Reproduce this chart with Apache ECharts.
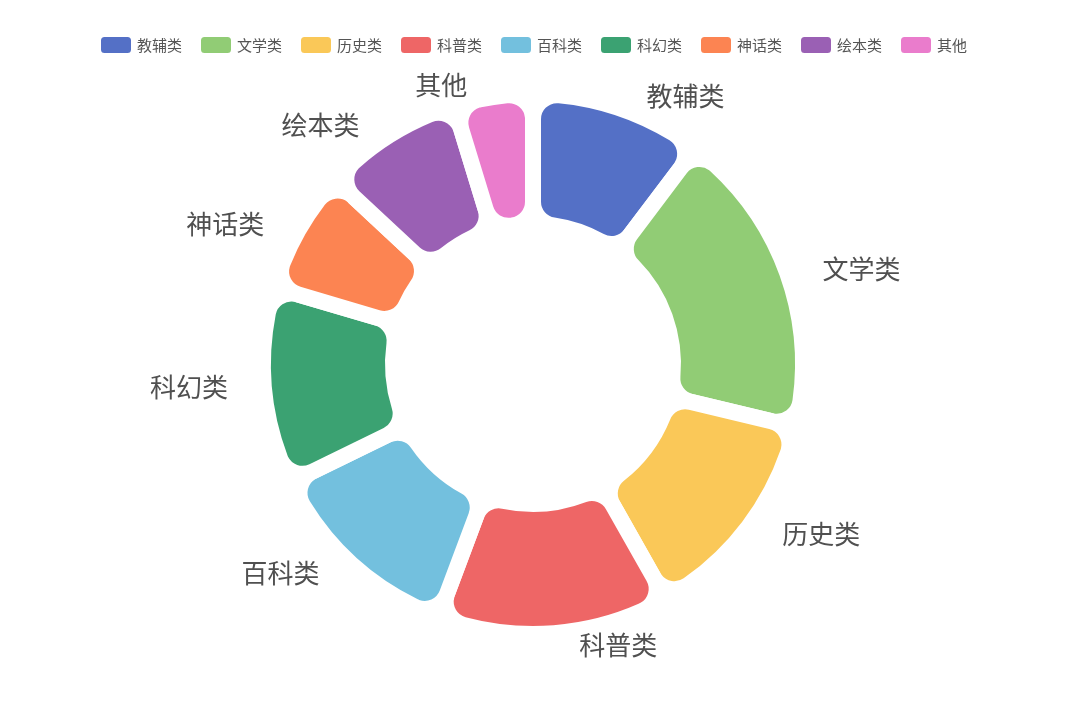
<!DOCTYPE html>
<html>
<head>
<meta charset="utf-8">
<title>图书分类占比</title>
<script src="https://cdn.jsdelivr.net/npm/echarts@6/dist/echarts.min.js"></script>
<style>
    html, body { margin: 0; padding: 0; background: #fff; }
    #chart { width: 1080px; height: 727px; }
</style>
</head>
<body>
<div id="chart"></div>
<script>
// 分类名称
const categories = ['教辅类', '文学类', '历史类', '科普类', '百科类', '科幻类', '神话类', '绘本类', '其他']
// 各分类数量
const amounts = [370, 665, 470, 500, 435, 425, 265, 300, 170]

const colors = ['#5470c6', '#91cc75', '#fac858', '#ee6666', '#73c0de', '#3ba272', '#fc8452', '#9a60b4', '#ea7ccc']

const chart = echarts.init(document.getElementById('chart'))

const option = {
    backgroundColor: '#fff',
    color: colors,
    textStyle: {
        fontFamily: 'Noto Sans CJK SC'
    },
    legend: {
        top: 30,
        left: 94,
        icon: 'roundRect',
        itemWidth: 32,
        itemHeight: 18,
        itemGap: 17,
        textStyle: {
            fontSize: 15,
            color: '#555'
        },
        data: categories
    },
    series: [{
        type: 'pie',
        center: [533, 364],
        radius: [140, 270],
        startAngle: 90,
        avoidLabelOverlap: false,
        // 白色粗边框做出扇区之间的间隔
        itemStyle: {
            borderRadius: 24,
            borderColor: '#fff',
            borderWidth: 16
        },
        label: {
            show: true,
            position: 'outside',
            fontSize: 26,
            color: '#505050'
        },
        labelLine: {
            show: false,
            length: 12,
            length2: 19
        },
        data: categories.map((name, i) => ({ name: name, value: amounts[i] }))
    }]
}

chart.setOption(option)
</script>
</body>
</html>
